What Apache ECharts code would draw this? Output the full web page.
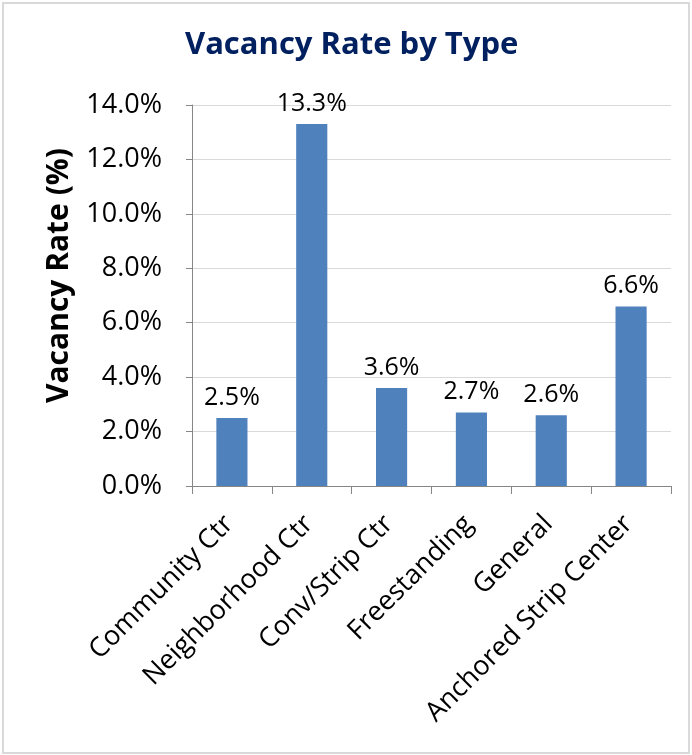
<!DOCTYPE html>
<html>
<head>
<meta charset="utf-8">
<script src="https://cdn.jsdelivr.net/npm/echarts@6/dist/echarts.min.js"></script>
<style>
  html, body { margin: 0; padding: 0; background: #fff; }
  #chart { width: 692px; height: 755px; }
</style>
</head>
<body>
<div id="chart"></div>
<script>
var categories = ['Community Ctr', 'Neighborhood Ctr', 'Conv/Strip Ctr', 'Freestanding', 'General', 'Anchored Strip Center'];
var vacancy = [2.5, 13.3, 3.6, 2.7, 2.6, 6.6];

var chart = echarts.init(document.getElementById('chart'));
var font = 'Open Sans';
var option = {
  animation: false,
  backgroundColor: '#fff',
  graphic: [{
    type: 'rect',
    shape: { x: 3, y: 3, width: 686, height: 750 },
    style: { fill: 'none', stroke: '#d9d9d9', lineWidth: 2 }
  }],
  title: {
    text: 'Vacancy Rate by Type',
    left: 180,
    top: 25,
    textStyle: { fontFamily: font, fontSize: 31, fontWeight: 'bold', color: '#002060' }
  },
  grid: { left: 192, right: 21, top: 105, bottom: 269 },
  xAxis: {
    type: 'category',
    data: categories,
    axisLine: { lineStyle: { color: '#868686', width: 1 } },
    axisTick: { show: true, length: 8, lineStyle: { color: '#868686' } },
    axisLabel: {
      rotate: 45, margin: 31, padding: [0, 4, 0, 0],
      color: '#000', fontFamily: font, fontSize: 27, interval: 0
    }
  },
  yAxis: {
    type: 'value',
    min: 0,
    max: 14,
    interval: 2,
    name: 'Vacancy Rate (%)',
    nameLocation: 'middle',
    nameGap: 118,
    nameTextStyle: { fontFamily: font, fontSize: 30, fontWeight: 'bold', color: '#000', padding: [0, 0, 0, 40] },
    axisLine: { show: true, lineStyle: { color: '#868686', width: 1 } },
    axisTick: { show: true, length: 6, lineStyle: { color: '#868686' } },
    splitLine: { lineStyle: { color: '#d9d9d9', width: 1 } },
    axisLabel: {
      margin: 30,
      color: '#000',
      fontFamily: font,
      fontSize: 27,
      formatter: function (v) { return v.toFixed(1) + '%'; }
    }
  },
  series: [{
    type: 'bar',
    data: vacancy,
    barWidth: '39%',
    itemStyle: { color: '#4f81bd' },
    label: {
      show: true,
      position: 'top',
      distance: 8,
      color: '#000',
      fontFamily: font,
      fontSize: 25,
      formatter: function (p) { return p.value.toFixed(1) + '%'; }
    }
  }]
};
chart.setOption(option);
</script>
</body>
</html>
